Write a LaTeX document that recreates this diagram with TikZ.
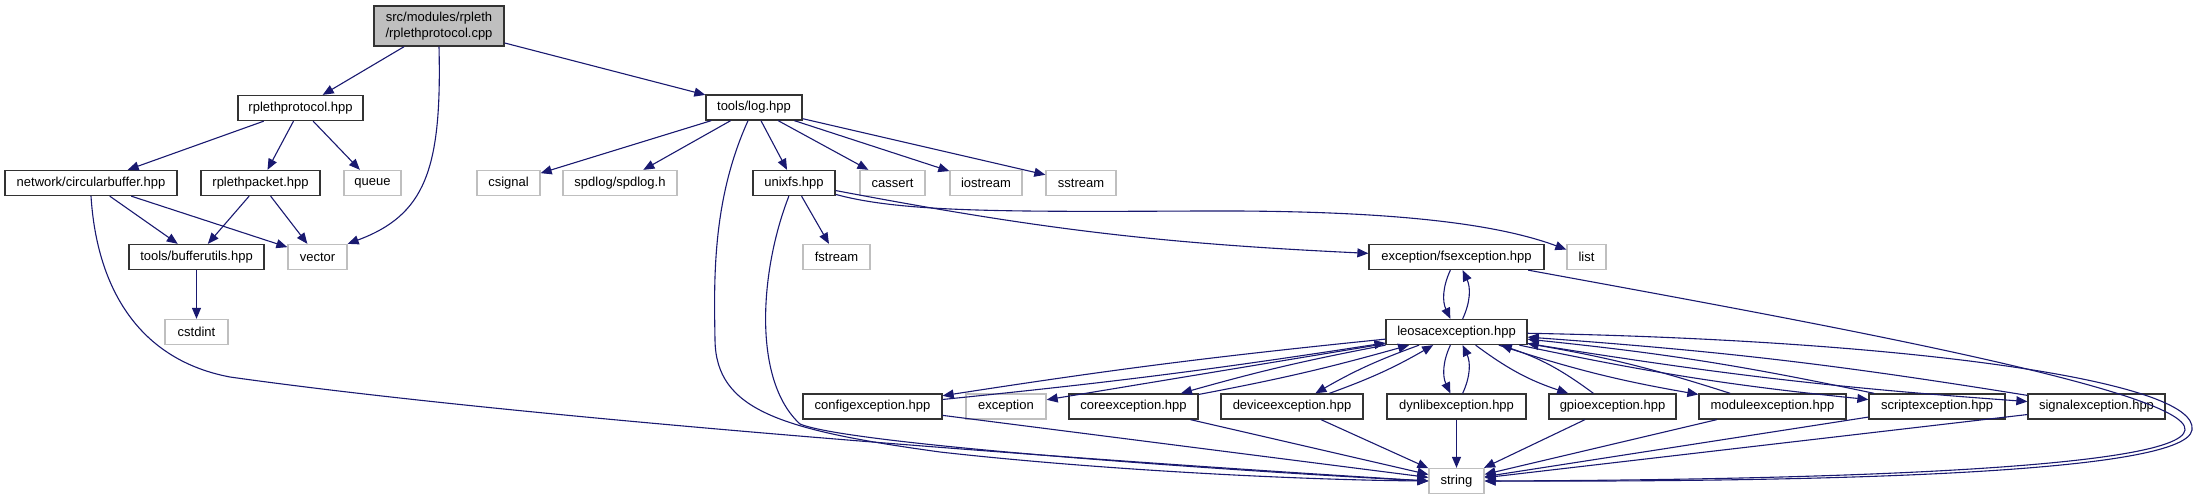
\documentclass[tikz,border=0pt]{standalone}
\usepackage{fontspec}
\setmainfont{Liberation Sans}
\usetikzlibrary{arrows.meta}
\definecolor{edgeblue}{HTML}{191970}
\definecolor{sysgray}{HTML}{BFBFBF}

\begin{document}
\begin{tikzpicture}[x=1pt, y=-1pt, >={Triangle[length=11pt,width=9pt]},
    box/.style={rectangle, minimum height=25pt, inner sep=0pt, line width=1.3pt,
        font=\fontsize{13}{16}\selectfont},
    hdr/.style={box, draw=black!80, fill=white, minimum width=#1pt},
    sys/.style={box, draw=sysgray, fill=white, minimum width=#1pt},
    incl/.style={->, edgeblue, line width=1.1pt}]

    \useasboundingbox (0,0) rectangle (2211,500);

    % 1. source file and headers, row by row
    \node[hdr=130, fill=sysgray, minimum height=40pt, align=center] (root) at (439,26)
        {src/modules/rpleth\\/rplethprotocol.cpp};

    \node[hdr=125] (rpp) at (300.5,108) {rplethprotocol.hpp};
    \node[hdr=96] (log) at (754,107.5) {tools/log.hpp};

    \node[hdr=172] (cbuf) at (91,183) {network/circularbuffer.hpp};
    \node[hdr=119] (rpacket) at (260.5,183) {rplethpacket.hpp};
    \node[sys=57] (queue) at (372.5,183) {queue};
    \node[sys=63] (csignal) at (508.5,183) {csignal};
    \node[sys=114] (spdlog) at (620,183) {spdlog/spdlog.h};
    \node[hdr=82] (unixfs) at (794,183) {unixfs.hpp};
    \node[sys=65] (cassert) at (892.5,183) {cassert};
    \node[sys=72] (iostream) at (986,183) {iostream};
    \node[sys=70] (sstream) at (1081,183) {sstream};

    \node[hdr=135] (bufutils) at (196.5,257) {tools/bufferutils.hpp};
    \node[sys=59] (vector) at (317.5,257) {vector};
    \node[sys=67] (fstream) at (836.5,257) {fstream};
    \node[hdr=175] (fsexc) at (1456.5,257) {exception/fsexception.hpp};
    \node[sys=39] (list) at (1586.5,257) {list};

    \node[sys=63] (cstdint) at (196.5,332) {cstdint};
    \node[hdr=141] (leosac) at (1456.5,332) {leosacexception.hpp};

    \node[hdr=139] (config) at (872.5,406.5) {configexception.hpp};
    \node[sys=80] (exception) at (1006,406.5) {exception};
    \node[hdr=129] (core) at (1133.5,406.5) {coreexception.hpp};
    \node[hdr=142] (device) at (1292,406.5) {deviceexception.hpp};
    \node[hdr=139] (dynlib) at (1456.5,406.5) {dynlibexception.hpp};
    \node[hdr=127] (gpio) at (1612.5,406.5) {gpioexception.hpp};
    \node[hdr=147] (module) at (1772.5,406.5) {moduleexception.hpp};
    \node[hdr=136] (script) at (1937,406.5) {scriptexception.hpp};
    \node[hdr=137] (signal) at (2096.5,406.5) {signalexception.hpp};

    \node[sys=55] (string) at (1456.5,481) {string};

    % 2. includes of rplethprotocol.cpp
    \draw[incl] (root) -- (rpp);
    \draw[incl] (root.south) .. controls (442,170) and (425,215) .. (vector.north east);
    \draw[incl] (root) -- (log);

    % 3. left branch
    \draw[incl] (rpp) -- (cbuf);
    \draw[incl] (rpp) -- (rpacket);
    \draw[incl] (rpp) -- (queue);
    \draw[incl] (cbuf) -- (bufutils);
    \draw[incl] (cbuf) -- (vector);
    \draw[incl] (cbuf.south) .. controls (97,290) and (140,360) .. (230,377)
        .. controls (500,415) and (1000,455) .. (string.west);
    \draw[incl] (rpacket) -- (bufutils);
    \draw[incl] (rpacket) -- (vector);
    \draw[incl] (bufutils) -- (cstdint);

    % 4. tools/log.hpp and unixfs.hpp
    \foreach \t in {csignal, spdlog, unixfs, cassert, iostream, sstream}
        \draw[incl] (log) -- (\t);
    \draw[incl] (log) .. controls (712,200) and (714,280) .. (715,340)
        .. controls (716,410) and (780,430) .. (940,452)
        .. controls (1100,470) and (1300,480) .. (string.west);
    \draw[incl] (unixfs) -- (fstream);
    \draw[incl] (unixfs) .. controls (760,270) and (752,380) .. (800,424)
        .. controls (850,445) and (1250,472) .. (string.west);
    \draw[incl] (unixfs) to[bend right=4] (fsexc);
    \draw[incl] (unixfs) .. controls (900,212) and (1000,212) .. (1200,211)
        .. controls (1400,210) and (1500,225) .. (list);

    % 5. exception headers
    \draw[incl] (fsexc) to[bend right=25] (leosac);
    \draw[incl] (leosac) to[bend right=25] (fsexc);
    \draw[incl] (fsexc) .. controls (1800,320) and (2190,390) .. (2185,430)
        .. controls (2180,470) and (1800,480) .. (string.east);
    \draw[incl] (leosac) .. controls (1900,340) and (2200,380) .. (2192,430)
        .. controls (2185,475) and (1800,482) .. (string.east);
    \draw[incl] (leosac) -- (exception);
    \foreach \t/\b in {config/1.5, core/2.5, device/5, dynlib/25, gpio/9,
                       module/4, script/3, signal/2.5} {
        \draw[incl] (leosac) to[bend right=\b] (\t);
        \draw[incl] (\t) to[bend right=\b] (leosac);
        \draw[incl] (\t) -- (string);
    }
\end{tikzpicture}
\end{document}
